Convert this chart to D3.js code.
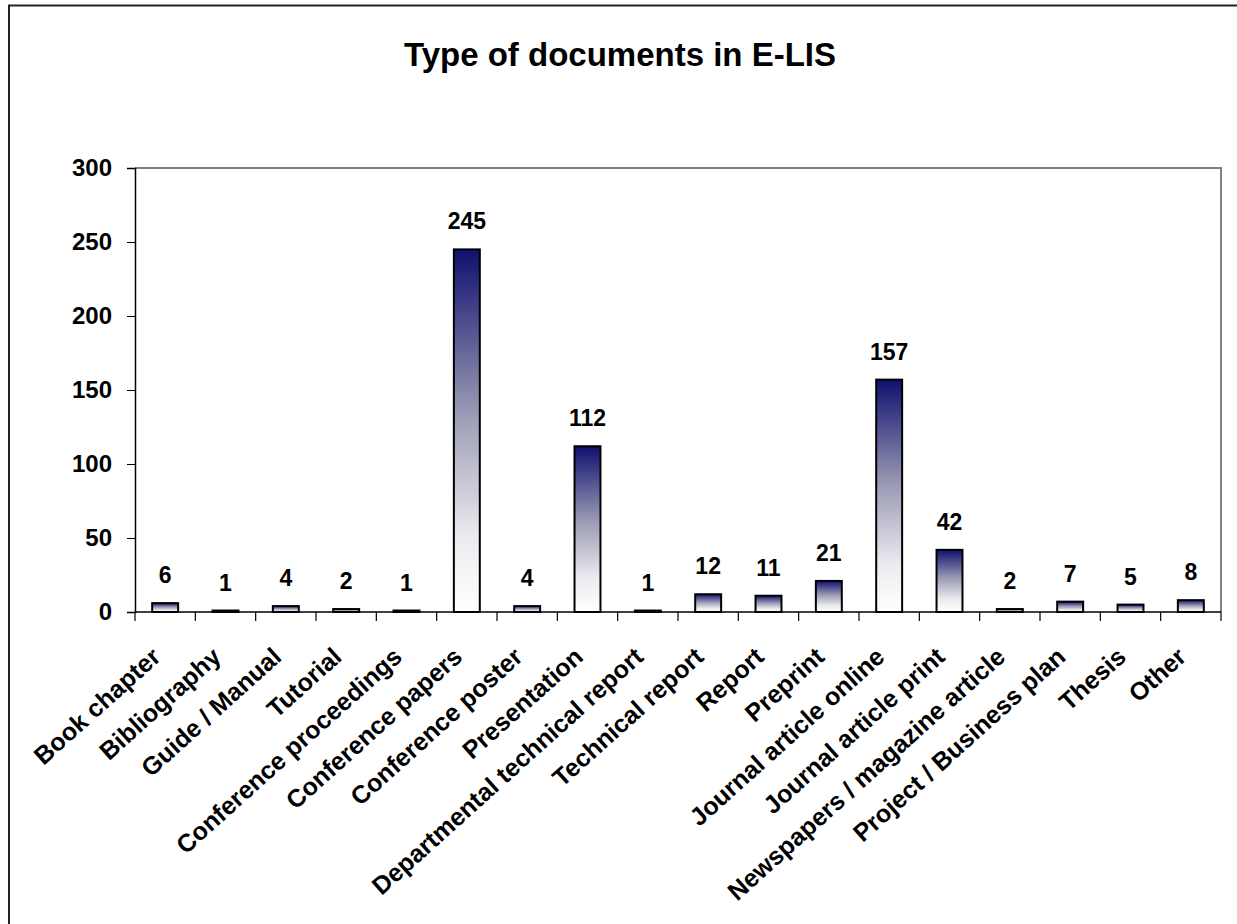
<!DOCTYPE html>
<html><head><meta charset="utf-8">
<script src="https://cdn.jsdelivr.net/npm/d3@7"></script>
<style>body{margin:0;background:#fff}svg{display:block}text{font-family:Arial,"Liberation Sans",sans-serif;font-weight:bold}</style>
</head><body>
<script>
const categories = ["Book chapter","Bibliography","Guide / Manual","Tutorial","Conference proceedings","Conference papers","Conference poster","Presentation","Departmental technical report","Technical report","Report","Preprint","Journal article online","Journal article print","Newspapers / magazine article","Project / Business plan","Thesis","Other"];
const values = [6,1,4,2,1,245,4,112,1,12,11,21,157,42,2,7,5,8];
const yTicks = [0,50,100,150,200,250,300];
const title = "Type of documents in E-LIS";

const W = 1237, H = 924;
const svg = d3.select("body").append("svg").attr("width", W).attr("height", H);
const defs = svg.append("defs");
const grad = defs.append("linearGradient").attr("id","g").attr("x1",0).attr("y1",0).attr("x2",0).attr("y2",1);
grad.append("stop").attr("offset","0%").attr("stop-color","#101070");
grad.append("stop").attr("offset","45%").attr("stop-color","#9a9ab4");
grad.append("stop").attr("offset","80%").attr("stop-color","#ececf0");
grad.append("stop").attr("offset","100%").attr("stop-color","#ffffff");

// outer border
svg.append("rect").attr("x",9).attr("y",5.5).attr("width",W+10).attr("height",H+10)
  .attr("fill","none").attr("stroke","#222").attr("stroke-width",2);

const m = {l:135, t:168, r:1221, b:612};
const x = d3.scaleBand().domain(categories).range([m.l, m.r]).paddingInner(0.57).paddingOuter(0.285);
const y = d3.scaleLinear().domain([0,300]).range([m.b, m.t]);

svg.append("text").attr("x",620).attr("y",66).attr("text-anchor","middle").attr("font-size",33).text(title);

// plot area gray border top/right
svg.append("path").attr("d",`M${m.l},${m.t}H${m.r}V${m.b}`).attr("fill","none").attr("stroke","#808080").attr("stroke-width",2);

// y axis
const ya = svg.append("g").attr("transform",`translate(${m.l},0)`)
  .call(d3.axisLeft(y).tickValues(yTicks).tickSize(8).tickPadding(15));
ya.select(".domain").attr("stroke","#000").attr("stroke-width",1.5);
ya.selectAll(".tick line").attr("stroke","#000");
ya.selectAll("text").attr("font-size",24).attr("fill","#000").attr("font-family","Arial, 'Liberation Sans', sans-serif").attr("font-weight","bold");

// bars
svg.selectAll("rect.bar").data(values).join("rect").attr("class","bar")
  .attr("x",(d,i)=>x(categories[i])).attr("width",x.bandwidth())
  .attr("y",d=>y(d)).attr("height",d=>y(0)-y(d))
  .attr("fill","url(#g)").attr("stroke","#000").attr("stroke-width",2);

// value labels
svg.selectAll("text.val").data(values).join("text").attr("class","val")
  .attr("x",(d,i)=>x(categories[i])+x.bandwidth()/2).attr("y",d=>y(d)-20)
  .attr("text-anchor","middle").attr("font-size",23).text(d=>d);

// x axis baseline and ticks
const step = x.step();
const xb = svg.append("g");
xb.append("line").attr("x1",m.l).attr("x2",m.r).attr("y1",m.b).attr("y2",m.b).attr("stroke","#000").attr("stroke-width",1.5);
xb.selectAll("line.t").data(d3.range(categories.length+1)).join("line").attr("class","t")
  .attr("x1",i=>m.l+i*step).attr("x2",i=>m.l+i*step).attr("y1",m.b).attr("y2",m.b+9)
  .attr("stroke","#000").attr("stroke-width",1.2);

// category labels
svg.selectAll("text.cat").data(categories).join("text").attr("class","cat")
  .attr("transform",d=>`translate(${x(d)+x.bandwidth()/2-3},${659}) rotate(-42)`)
  .attr("text-anchor","end").attr("font-size",25).text(d=>d);
</script>
</body></html>
